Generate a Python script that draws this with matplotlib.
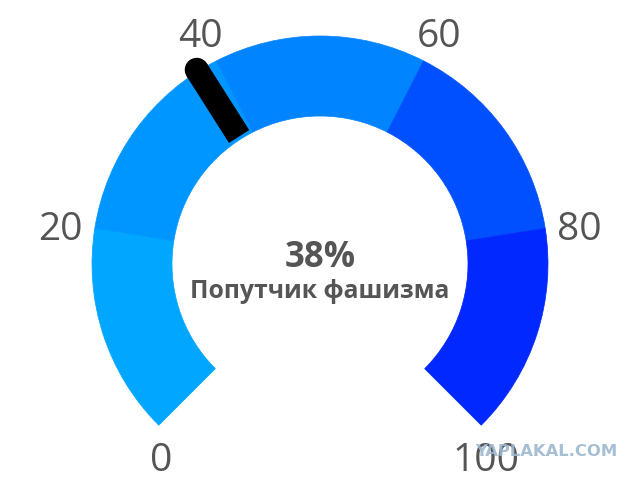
import numpy as np
import matplotlib
matplotlib.use("Agg")
import matplotlib.pyplot as plt
from matplotlib.patches import Wedge, Circle, Polygon

# ---- data ----
band_edges = [0, 20, 40, 60, 80, 100]
band_colors = ["#00A6FF", "#0096FF", "#0084FF", "#0050FF", "#0028FF"]
tick_values = [0, 20, 40, 60, 80, 100]
tick_labels = ["0", "20", "40", "60", "80", "100"]
value = 38
value_label = "38%"
title_label = "Попутчик фашизма"
watermark = "YAPLAKAL.COM"

# ---- layout (pixel-like units, center of gauge at origin) ----
W, H = 640, 482
cy_px = 264
R_OUT, R_IN = 228, 148
START, SPAN = 225.0, 270.0
vmin, vmax = band_edges[0], band_edges[-1]

def ang(v):
    return START - (v - vmin) / (vmax - vmin) * SPAN

fig = plt.figure(figsize=(6.4, 4.82), dpi=100)
ax = fig.add_axes([0, 0, 1, 1])
ax.set_xlim(-W / 2, W / 2)
ax.set_ylim(-(H - cy_px), cy_px)
ax.set_aspect("equal")
ax.axis("off")

for lo, hi, c in zip(band_edges[:-1], band_edges[1:], band_colors):
    ax.add_patch(Wedge((0, 0), R_OUT, ang(hi), ang(lo), width=R_OUT - R_IN,
                       facecolor=c, edgecolor=c, linewidth=0.5))

# needle
a = np.radians(ang(value))
d = np.array([np.cos(a), np.sin(a)])
p = np.array([-np.sin(a), np.cos(a)])
r0, r1, hw = 151, 230, 12
pts = [r0 * d + hw * p, r1 * d + hw * p, r1 * d - hw * p, r0 * d - hw * p]
ax.add_patch(Polygon(pts, closed=True, facecolor="black", edgecolor="none", zorder=5))
ax.add_patch(Circle(r1 * d, hw, facecolor="black", edgecolor="none", zorder=5))

# tick labels
lab_font = dict(family="Open Sans", fontsize=28, color="#555555")
cap = 27.7
for v, t in zip(tick_values, tick_labels):
    th = np.radians(ang(v))
    if np.sin(th) < -0.1:
        x = R_OUT * np.cos(th) + (2 if np.cos(th) < 0 else 5)
        y = R_OUT * np.sin(th) - 18 - cap
        ax.text(x, y, t, ha="center", va="baseline", **lab_font)
    else:
        r = 263
        x, y = r * np.cos(th), r * np.sin(th) - 3
        ax.text(x, y - cap / 2, t, ha="center", va="baseline", **lab_font)

ax.text(0, -3.3, value_label, ha="center", va="baseline", family="Open Sans",
        fontweight="bold", fontsize=25, color="#555555")
ax.text(0, -34, title_label, ha="center", va="baseline", family="Open Sans",
        fontweight="bold", fontsize=17.8, color="#555555")

ax.text(226, -188, watermark, ha="center", va="center", family="DejaVu Sans",
        fontweight="bold", fontsize=11.8, color="#9DB8CF", alpha=0.9, zorder=6)

fig.savefig("out.png", dpi=100, facecolor="white")
